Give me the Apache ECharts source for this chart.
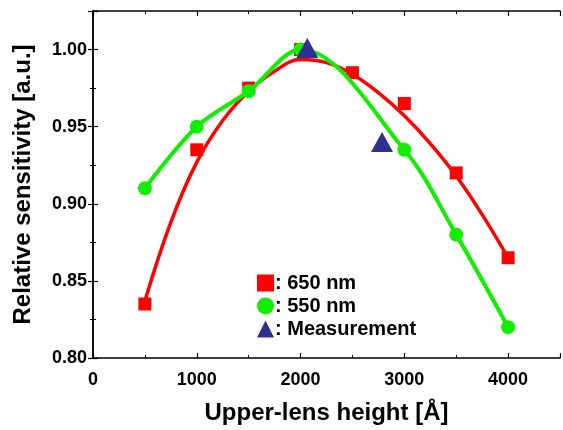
<!DOCTYPE html>
<html><head><meta charset="utf-8">
<script src="https://cdn.jsdelivr.net/npm/echarts@6/dist/echarts.min.js"></script>
<style>html,body{margin:0;padding:0;background:#fff}#c{width:563px;height:430px}</style>
</head><body><div id="c"></div>
<script>
const xTicks = [0, 1000, 2000, 3000, 4000];
const yTicks = [0.80, 0.85, 0.90, 0.95, 1.00];
const x650 = [500, 1000, 1500, 2000, 2500, 3000, 3500, 4000];
const y650 = [0.835, 0.935, 0.975, 1.000, 0.985, 0.965, 0.920, 0.865];
const xFit650 = [500, 750, 1000, 1250, 1500, 1750, 2000, 2250, 2500, 2750, 3000, 3250, 3500, 3750, 4000];
const yFit650 = [0.837, 0.888, 0.927, 0.954, 0.973, 0.986, 0.9935, 0.9915, 0.984, 0.972, 0.957, 0.939, 0.918, 0.893, 0.865];
const x550 = [500, 1000, 1500, 2000, 3000, 3500, 4000];
const y550 = [0.910, 0.950, 0.973, 1.000, 0.935, 0.880, 0.820];
const xMeas = [2065, 2785];
const yMeas = [1.001, 0.940];
const names = [': 650 nm', ': 550 nm', ': Measurement'];

const RED = '#ff0000', GREEN = '#11ee00', NAVY = '#2e3192';
const FONT = '"Liberation Sans", Arial, sans-serif';
const zip = (a, b) => a.map((v, i) => [v, b[i]]);

const chart = echarts.init(document.getElementById('c'), null, {renderer: 'canvas'});
const axLine = {show: true, lineStyle: {color: '#000', width: 1.5}};
const tick = {inside: true, length: 5, lineStyle: {color: '#000', width: 1.2}};
const minor = {show: true, splitNumber: 2, length: 3, lineStyle: {color: '#000'}};
chart.setOption({
  animation: false,
  backgroundColor: '#fff',
  grid: {left: 93, right: 1, top: 11, bottom: 70, containLabel: false},
  legend: {
    orient: 'vertical', left: 252, top: 268, itemWidth: 17, itemHeight: 17, itemGap: 3,
    textStyle: {fontFamily: FONT, fontWeight: 'bold', fontSize: 20, color: '#000', padding: [0, 0, 0, -4]},
    data: [
      {name: names[0], icon: 'rect'},
      {name: names[1], icon: 'circle'},
      {name: names[2], icon: 'triangle'}
    ]
  },
  xAxis: [{
    type: 'value', min: 0, max: 4500, interval: 1000,
    name: 'Upper-lens height [Å]', nameLocation: 'middle', nameGap: 43,
    nameTextStyle: {fontFamily: FONT, fontWeight: 'bold', fontSize: 24, color: '#000'},
    axisLine: axLine, axisTick: tick, minorTick: minor,
    splitLine: {show: false},
    axisLabel: {fontFamily: FONT, fontWeight: 'bold', fontSize: 18, color: '#000', margin: 13,
      formatter: v => xTicks.includes(v) ? String(v) : ''}
  }, {
    type: 'value', position: 'top', min: 0, max: 4500, interval: 1000,
    axisLine: axLine, axisTick: tick, minorTick: minor,
    splitLine: {show: false}, axisLabel: {show: false}
  }],
  yAxis: [{
    type: 'value', min: 0.8, max: 1.025, interval: 0.05,
    name: 'Relative sensitivity [a.u.]', nameLocation: 'middle', nameGap: 58,
    nameTextStyle: {fontFamily: FONT, fontWeight: 'bold', fontSize: 24, color: '#000'},
    axisLine: axLine, axisTick: tick, minorTick: minor,
    splitLine: {show: false},
    axisLabel: {fontFamily: FONT, fontWeight: 'bold', fontSize: 18, color: '#000', margin: 6,
      formatter: v => yTicks.some(t => Math.abs(t - v) < 1e-9) ? v.toFixed(2) : ''}
  }, {
    type: 'value', position: 'right', min: 0.8, max: 1.025, interval: 0.05,
    axisLine: axLine, axisTick: tick, minorTick: minor,
    splitLine: {show: false}, axisLabel: {show: false}
  }],
  series: [
    {name: names[0], type: 'scatter', symbol: 'rect', symbolSize: 13, z: 2,
     itemStyle: {color: RED, opacity: 1}, data: zip(x650, y650)},
    {name: 'fit650', type: 'line', smooth: 0.4, showSymbol: false, z: 3,
     lineStyle: {color: RED, width: 3.5}, itemStyle: {color: RED}, data: zip(xFit650, yFit650)},
    {name: names[1], type: 'line', smooth: 0.35, symbol: 'circle', symbolSize: 14, z: 4,
     lineStyle: {color: GREEN, width: 4}, itemStyle: {color: GREEN, opacity: 1}, data: zip(x550, y550)},
    {name: names[2], type: 'scatter', symbol: 'triangle', symbolSize: [22, 20], z: 5,
     itemStyle: {color: NAVY, opacity: 1}, data: zip(xMeas, yMeas)}
  ]
});
</script></body></html>
